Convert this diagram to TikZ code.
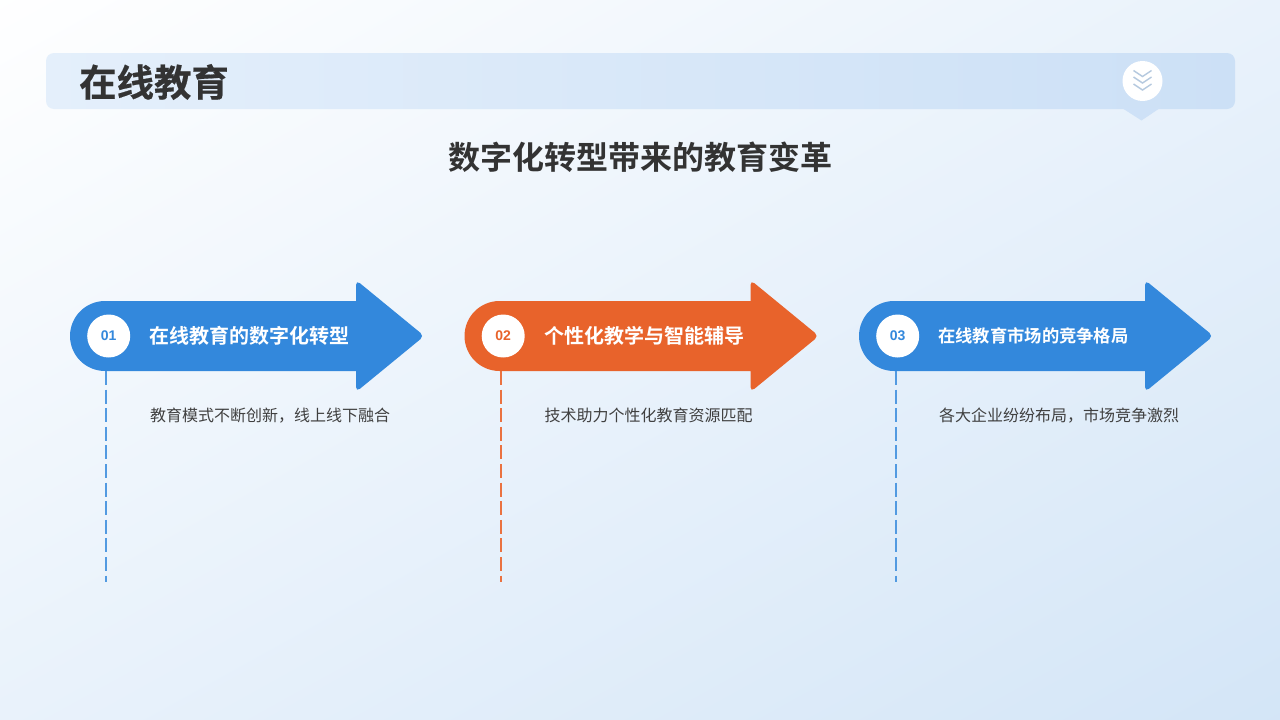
\documentclass[tikz,border=0pt]{standalone}
\usepackage{fontspec}
\setmainfont{Noto Sans CJK SC}
\newfontfamily\cjkbold{Noto Sans CJK SC Bold}
\newfontfamily\cjkheavy[FakeBold=0.5]{Noto Sans CJK SC Bold}
\newfontfamily\latinb{Liberation Sans Bold}
\definecolor{bgA}{HTML}{FFFFFF}
\definecolor{bgB}{HTML}{D3E5F7}
\definecolor{bgM}{HTML}{F3F8FD}
\definecolor{hdrA}{HTML}{E4EFFB}
\definecolor{hdrB}{HTML}{CCE0F6}
\definecolor{blueA}{HTML}{3388DC}
\definecolor{orangeA}{HTML}{E8632B}
\definecolor{ink}{HTML}{333333}
\definecolor{inkB}{HTML}{404040}
\definecolor{chev}{HTML}{B5C9DF}
\tikzset{
  x=1pt,y=-1pt,
  numdisc/.style={circle,fill=white,minimum size=43pt,inner sep=0pt,font=\latinb\fontsize{14}{14}\selectfont},
  headtxt/.style={anchor=west,inner sep=0pt,text=white,font=\cjkbold\fontsize{#1}{#1}\selectfont},
  desctxt/.style={anchor=west,inner sep=0pt,text=inkB,font=\fontsize{16}{16}\selectfont},
  guide/.style={line width=2pt,dash pattern=on 14pt off 4.6pt},
  chevline/.style={draw=chev,line width=1.4pt,line join=miter}
}
\newcommand{\steparrow}[5]{% id, x offset, colour, number, desc
  \fill[#3] (#2+35,301) -- (#2+286,301) [rounded corners=5pt] -- (#2+286,280) -- (#2+354.3,336) -- (#2+286,392) [sharp corners] -- (#2+286,371) -- (#2+35,371) arc[start angle=90,end angle=270,radius=35] -- cycle;
  \node[numdisc,text=#3] (disc#1) at (#2+38.7,336) {\raisebox{-0.8pt}{#4}};
  \node[desctxt] (desc#1) at (#2+80,415.5) {#5};
}
\begin{document}
\begin{tikzpicture}
\useasboundingbox (0,0) rectangle (1280,720);
\begin{scope}
\clip (0,0) rectangle (1280,720);
\shade[top color=bgA,middle color=bgM,bottom color=bgB,shading angle=29] (-5,-285) rectangle (1285,1005);
\end{scope}
% header
\shade[left color=hdrA,right color=hdrB,rounded corners=8pt] (46,53) rectangle (1235,109);
\fill[hdrB!90!hdrA] (1122,108) -- (1160,108) -- (1141.5,120.5) -- cycle;
\node[circle,fill=white,minimum size=40pt,inner sep=0pt] (badge) at (1142.5,81) {};
\draw[chevline] (1133.5,70.5) -- (1142.5,76.5) -- (1151.5,70.5);
\draw[chevline] (1133.5,77) -- (1142.5,83) -- (1151.5,77);
\draw[chevline] (1133.5,84) -- (1142.5,90) -- (1151.5,84);
\node[anchor=west,inner sep=0pt,text=ink,font=\cjkheavy\fontsize{37.4}{37.4}\selectfont] (title) at (79,82) {在线教育};
\node[inner sep=0pt,text=ink,font=\cjkbold\fontsize{32}{32}\selectfont] (subtitle) at (640,157) {数字化转型带来的教育变革};
% steps
\steparrow{a}{70}{blueA}{01}{教育模式不断创新，线上线下融合}
\node[headtxt=20] (heada) at (149,336) {在线教育的数字化转型};
\steparrow{b}{464.5}{orangeA}{02}{技术助力个性化教育资源匹配}
\node[headtxt=20] (headb) at (544,336) {个性化教学与智能辅导};
\steparrow{c}{859}{blueA}{03}{各大企业纷纷布局，市场竞争激烈}
\node[headtxt=17.3] (headc) at (938,336) {在线教育市场的竞争格局};
% guides
\coordinate (topa) at (106.1,371); \coordinate (bota) at (106.1,582);
\coordinate (topb) at (501.1,371); \coordinate (botb) at (501.1,582);
\coordinate (topc) at (896.1,371); \coordinate (botc) at (896.1,582);
\draw[blueA!85!white,guide] (topa) -- (bota);
\draw[orangeA!90!white,guide] (topb) -- (botb);
\draw[blueA!85!white,guide] (topc) -- (botc);
\end{tikzpicture}
\end{document}
